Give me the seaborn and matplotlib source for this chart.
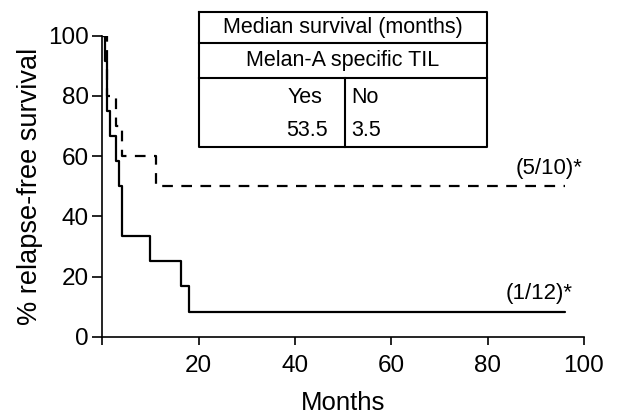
import matplotlib
matplotlib.use("Agg")
import matplotlib.pyplot as plt
import seaborn as sns
import pandas as pd

# Kaplan-Meier step data (months, % relapse-free)
til_yes_months = [0, 1.0, 2.8, 4.0, 11.2, 96]
til_yes_surv = [100, 80, 70, 60, 50, 50]
til_no_months = [0, 0.5, 1.0, 1.7, 2.8, 3.4, 4.0, 10.0, 16.4, 18.0, 96]
til_no_surv = [100, 91.7, 75, 66.7, 58.3, 50, 33.3, 25, 16.7, 8.3, 8.3]
groups = ["Yes", "No"]
end_labels = ["(5/10)*", "(1/12)*"]
x_ticks = [0, 20, 40, 60, 80, 100]
x_ticklabels = ["", "20", "40", "60", "80", "100"]
y_ticks = [0, 20, 40, 60, 80, 100]
median_yes = "53.5"
median_no = "3.5"

df = pd.concat([
    pd.DataFrame({"Months": til_yes_months, "surv": til_yes_surv, "TIL": "Yes"}),
    pd.DataFrame({"Months": til_no_months, "surv": til_no_surv, "TIL": "No"}),
])

sns.set_theme(style="ticks")
plt.rcParams["font.family"] = ["Liberation Sans", "DejaVu Sans"]
plt.rcParams["text.color"] = "black"
plt.rcParams["axes.labelcolor"] = "black"

fig = plt.figure(figsize=(6.21, 4.18), dpi=100)
ax = fig.add_axes([0.1647, 0.1945, 0.7757, 0.72])

sns.lineplot(data=df, x="Months", y="surv", hue="TIL", style="TIL",
             hue_order=groups, style_order=groups,
             palette={"Yes": "black", "No": "black"},
             dashes={"Yes": (4.8, 3.8), "No": ""},
             drawstyle="steps-post", linewidth=1.6, legend=False,
             estimator=None, ax=ax)

ax.set_xlim(0, 100)
ax.set_ylim(0, 100)
ax.set_xticks(x_ticks)
ax.set_xticklabels(x_ticklabels)
ax.set_yticks(y_ticks)
ax.tick_params(axis="both", labelsize=17.5, width=1.2, color="black",
               labelcolor="black", direction="out")
ax.tick_params(axis="x", length=6, pad=7)
ax.tick_params(axis="y", length=7.5, pad=2)
for s in ["top", "right"]:
    ax.spines[s].set_visible(False)
for s in ["left", "bottom"]:
    ax.spines[s].set_linewidth(1.2)
    ax.spines[s].set_color("black")
ax.set_xlabel("Months", fontsize=18.5, labelpad=10)
ax.set_ylabel("% relapse-free survival", fontsize=19.5, labelpad=4)

# end annotations
ax.text(99.6, 50 + 2.5, end_labels[0], ha="right", va="bottom", fontsize=16)
ax.text(97.6, 8.3 + 2.5, end_labels[1], ha="right", va="bottom", fontsize=16)

# median survival table (data coords, unclipped)
L, R, T, B = 20.1, 79.8, 108.0, 63.0
r1, r2, vx = 97.5, 85.8, 50.4
lw = 1.5
kw = dict(color="black", lw=lw, clip_on=False, solid_capstyle="projecting")
ax.plot([L, R, R, L, L], [T, T, B, B, T], **kw)
ax.plot([L, R], [r1, r1], **kw)
ax.plot([L, R], [r2, r2], **kw)
ax.plot([vx, vx], [r2, B], **kw)
fs = 15.5
ax.text((L + R) / 2, (T + r1) / 2, "Median survival (months)", ha="center",
        va="center", fontsize=fs, clip_on=False)
ax.text((L + R) / 2, (r1 + r2) / 2, "Melan-A specific TIL", ha="center",
        va="center", fontsize=fs)
ax.text(45.8, 79.6, groups[0], ha="right", va="center", fontsize=fs)
ax.text(46.9, 68.6, median_yes, ha="right", va="center", fontsize=fs)
ax.text(51.6, 79.6, groups[1], ha="left", va="center", fontsize=fs)
ax.text(51.6, 68.6, median_no, ha="left", va="center", fontsize=fs)

fig.savefig("out.png", dpi=100)
